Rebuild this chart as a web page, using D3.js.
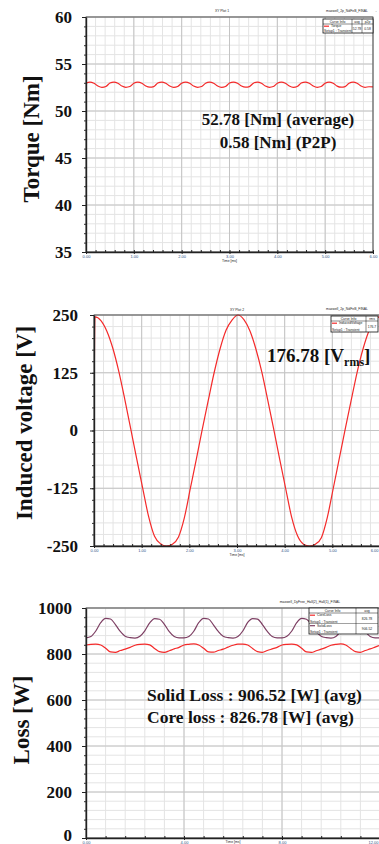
<!DOCTYPE html>
<html>
<head>
<meta charset="utf-8">
<script src="https://cdn.jsdelivr.net/npm/d3@7"></script>
<style>
  body { margin: 0; background: #fff; }
  svg { display: block; }
  .tick-label text { font-family: "Liberation Serif", "Times New Roman", serif; font-weight: bold; font-size: 17px; fill: #111; }
  .x-labels text { font-family: "Liberation Sans", Arial, sans-serif; font-size: 4px; fill: #2a4f86; }
  .ylabel { font-family: "Liberation Serif", "Times New Roman", serif; font-weight: bold; font-size: 23px; fill: #111; }
  .note { font-family: "Liberation Serif", "Times New Roman", serif; font-weight: bold; fill: #111; }
  .tiny { font-family: "Liberation Sans", Arial, sans-serif; font-size: 3.4px; fill: #222; }
</style>
</head>
<body>
<div id="app"></div>
<script>

// ---------- CONSTANTS ----------

const WIDTH = 379;
const HEIGHT = 844;

// ---------- Data ----------

// shared time axis of the torque and voltage plots [ms]
const TIME_TICKS = [0, 1, 2, 3, 4, 5, 6];
const TIME_LABELS = ["0.00", "1.00", "2.00", "3.00", "4.00", "5.00", "6.00"];

// torque [Nm], one sample every 1/12 ms
const TORQUE_TICKS = [35, 40, 45, 50, 55, 60];
const TORQUE_STEP = 1 / 12;
const torqueValues = [
  52.96, 53.08, 52.95, 52.66, 52.52, 52.61,
  52.97, 53.08, 52.96, 52.65, 52.52, 52.60,
  52.96, 53.07, 52.96, 52.66, 52.53, 52.60,
  52.97, 53.08, 52.95, 52.66, 52.52, 52.61,
  52.96, 53.08, 52.96, 52.65, 52.52, 52.60,
  52.96, 53.07, 52.96, 52.66, 52.52, 52.61,
  52.97, 53.08, 52.95, 52.66, 52.53, 52.60,
  52.96, 53.08, 52.96, 52.65, 52.52, 52.60,
  52.96, 53.07, 52.96, 52.66, 52.52, 52.61,
  52.97, 53.08, 52.95, 52.66, 52.52, 52.60,
  52.96, 53.08, 52.96, 52.65, 52.53, 52.60,
  52.96, 53.07, 52.96, 52.66, 52.52, 52.58,
  52.56
];

// induced voltage [V]: first sample at t = 0, then every 0.125 ms from 0.02 ms
const VOLT_TICKS = [-250, -125, 0, 125, 250];
const VOLT_START = 0;
const VOLT_OFFSET = 0.02;
const VOLT_STEP = 0.125;
const voltValues = [
  246, 238, 215, 178, 128, 68, 4, -61, -124, -186, -229, -245,
  -250, -246, -231, -189, -126, -63, 2, 64, 125, 177, 217, 239,
  250, 240, 216, 177, 127, 66, 3, -62, -125, -187, -228, -246,
  -250, -246, -232, -188, -125, -61, 3, 65, 126, 177, 216, 238,
  249
];

// losses [W], one sample every 0.2 ms
const LOSS_TICKS = [0, 200, 400, 600, 800, 1000];
const LOSS_TIME_TICKS = [0, 4, 8, 12];
const LOSS_TIME_LABELS = ["0.00", "4.00", "8.00", "12.00"];
const LOSS_STEP = 0.2;
const solidLoss = [
  870, 876, 900, 936, 955, 952, 928, 898, 877, 871,
  869, 877, 901, 935, 954, 951, 929, 897, 876, 870,
  870, 876, 899, 936, 955, 952, 927, 898, 877, 871,
  869, 876, 900, 937, 954, 952, 928, 898, 876, 870,
  870, 877, 900, 936, 955, 951, 928, 897, 877, 871,
  869, 876, 901, 935, 955, 952, 928, 898, 876, 870,
  870
];
const coreLoss = [
  839, 842, 843, 839, 825, 809, 807, 815, 821, 829,
  838, 842, 843, 840, 824, 810, 807, 814, 822, 829,
  839, 842, 844, 839, 825, 809, 808, 815, 821, 830,
  838, 843, 843, 839, 824, 810, 807, 815, 822, 829,
  839, 842, 843, 840, 825, 809, 807, 814, 821, 829,
  838, 842, 844, 839, 824, 810, 807, 815, 822, 830,
  838
];

// ---------- Helpers ----------

const svg = d3.select("#app")
  .append("svg")
  .attr("width", WIDTH)
  .attr("height", HEIGHT);

let clipId = 0;

// grid, axes, frame and curves of one plot
function drawPanel(p) {
  const g = svg.append("g");
  const x = d3.scaleLinear().domain(p.xDomain).range([p.left, p.right]);
  const y = d3.scaleLinear().domain(p.yDomain).range([p.bottom, p.top]);

  const xMinor = d3.range(p.xDomain[0], p.xDomain[1] + 1e-9, p.xMinorStep);
  const yMinor = d3.range(p.yDomain[0], p.yDomain[1] + 1e-9, p.yMinorStep);

  // minor grid
  g.append("g").selectAll("line").data(xMinor).join("line")
    .attr("x1", d => x(d)).attr("x2", d => x(d))
    .attr("y1", p.top).attr("y2", p.bottom)
    .attr("stroke", "#e4e4e4");
  g.append("g").selectAll("line").data(yMinor).join("line")
    .attr("x1", p.left).attr("x2", p.right)
    .attr("y1", d => y(d)).attr("y2", d => y(d))
    .attr("stroke", "#e4e4e4");

  // major grid
  g.append("g").selectAll("line").data(p.xTicks).join("line")
    .attr("x1", d => x(d)).attr("x2", d => x(d))
    .attr("y1", p.top).attr("y2", p.bottom)
    .attr("stroke", "#c4c4c4");
  g.append("g").selectAll("line").data(p.yTicks).join("line")
    .attr("x1", p.left).attr("x2", p.right)
    .attr("y1", d => y(d)).attr("y2", d => y(d))
    .attr("stroke", "#c4c4c4");

  // curves
  const id = "clip" + (clipId++);
  svg.append("clipPath").attr("id", id)
    .append("rect")
    .attr("x", p.left).attr("y", p.top - 1)
    .attr("width", p.right - p.left).attr("height", p.bottom - p.top + 2);

  const line = d3.line()
    .x(d => x(d.t))
    .y(d => y(d.v))
    .curve(d3.curveMonotoneX);

  p.series.forEach(s => {
    g.append("path")
      .datum(s.points)
      .attr("clip-path", `url(#${id})`)
      .attr("fill", "none")
      .attr("stroke", s.color)
      .attr("stroke-width", 1.2)
      .attr("d", line);
  });

  // frame
  g.append("rect")
    .attr("x", p.left).attr("y", p.top)
    .attr("width", p.right - p.left).attr("height", p.bottom - p.top)
    .attr("fill", "none")
    .attr("stroke", "#333")
    .attr("stroke-width", 0.8);

  // y axis, minor ticks then labelled ticks
  g.append("g")
    .attr("transform", `translate(${p.left},0)`)
    .call(d3.axisLeft(y).tickValues(yMinor).tickSize(2).tickSizeOuter(0).tickFormat(""))
    .call(a => a.select(".domain").remove())
    .selectAll("line").attr("stroke", "#333");
  const ya = g.append("g")
    .attr("class", "tick-label")
    .attr("transform", `translate(${p.left},0)`)
    .call(d3.axisLeft(y).tickValues(p.yTicks).tickSize(4).tickSizeOuter(0).tickPadding(p.yPad)
      .tickFormat(d => String(d)))
    .call(a => a.select(".domain").attr("stroke", "#222").attr("stroke-width", 1.4))
    .call(a => a.attr("font-family", null).attr("font-size", null));
  ya.selectAll("line").attr("stroke", "#222");
  // a label on the bottom window edge is lifted a little
  ya.selectAll(".tick text")
    .filter(d => y(d) > HEIGHT - 10)
    .attr("dy", "0.12em");

  // x axis
  g.append("g")
    .attr("transform", `translate(0,${p.bottom})`)
    .call(d3.axisBottom(x).tickValues(xMinor).tickSize(-2).tickSizeOuter(0).tickFormat(""))
    .call(a => a.select(".domain").remove())
    .selectAll("line").attr("stroke", "#222");
  const xa = g.append("g")
    .attr("class", "x-labels")
    .attr("transform", `translate(0,${p.bottom})`)
    .call(d3.axisBottom(x).tickValues(p.xTicks).tickSize(2).tickSizeOuter(0).tickPadding(1)
      .tickFormat((d, i) => p.xLabels[i]))
    .call(a => a.select(".domain").attr("stroke", "#222").attr("stroke-width", 1.4))
    .call(a => a.attr("font-family", null).attr("font-size", null));
  xa.selectAll("line").attr("stroke", "#222");
  // the last label sits on the window edge: keep it inside
  xa.selectAll(".tick text")
    .filter(d => x(d) > WIDTH - 4)
    .attr("text-anchor", "end")
    .attr("x", WIDTH - 1 - x(p.xDomain[1]));

  g.append("text")
    .attr("class", "tiny")
    .attr("x", (p.left + p.right) / 2)
    .attr("y", Math.min(p.bottom + 10, HEIGHT - 1.5))
    .attr("text-anchor", "middle")
    .text("Time [ms]");

  // rotated y label
  g.append("text")
    .attr("class", "ylabel")
    .attr("transform", `translate(${p.labelX},${p.labelY}) rotate(-90)`)
    .attr("text-anchor", "middle")
    .text(p.yLabel);

  return { x, y };
}

// small curve-info table in the upper right corner
function drawLegend(lx, ly, w, h, colX, rows, headers) {
  const rowH = 5;
  const g = svg.append("g");
  g.append("rect")
    .attr("x", lx).attr("y", ly)
    .attr("width", w).attr("height", h)
    .attr("fill", "#fff")
    .attr("stroke", "#111")
    .attr("stroke-width", 0.8);
  g.append("line")
    .attr("x1", lx).attr("x2", lx + w)
    .attr("y1", ly + rowH).attr("y2", ly + rowH)
    .attr("stroke", "#111").attr("stroke-width", 0.5);
  colX.forEach(cx => {
    g.append("line")
      .attr("x1", cx).attr("x2", cx)
      .attr("y1", ly).attr("y2", ly + h)
      .attr("stroke", "#111").attr("stroke-width", 0.5);
  });
  headers.forEach((t, i) => {
    const x0 = i === 0 ? lx : colX[i - 1];
    const x1 = i < colX.length ? colX[i] : lx + w;
    g.append("text").attr("class", "tiny")
      .attr("x", (x0 + x1) / 2).attr("y", ly + 3.6)
      .attr("text-anchor", "middle").text(t);
  });
  const bodyH = (h - rowH) / rows.length;
  rows.forEach((r, i) => {
    const ry = ly + rowH + i * bodyH;
    if (i > 0) {
      g.append("line")
        .attr("x1", lx).attr("x2", lx + w)
        .attr("y1", ry).attr("y2", ry)
        .attr("stroke", "#111").attr("stroke-width", 0.4);
    }
    g.append("line")
      .attr("x1", lx + 1).attr("x2", lx + 6)
      .attr("y1", ry + 2.2).attr("y2", ry + 2.2)
      .attr("stroke", r.color).attr("stroke-width", 1.2);
    g.append("text").attr("class", "tiny")
      .attr("x", lx + 8).attr("y", ry + 3).text(r.name);
    g.append("text").attr("class", "tiny")
      .attr("x", lx + 1).attr("y", ry + bodyH - 1).text(r.setup);
    r.values.forEach((v, j) => {
      const x0 = colX[j];
      const x1 = j + 1 < colX.length ? colX[j + 1] : lx + w;
      g.append("text").attr("class", "tiny")
        .attr("x", (x0 + x1) / 2).attr("y", ry + bodyH / 2 + 1.3)
        .attr("text-anchor", "middle").text(v);
    });
  });
}

function titleText(x, y, t, anchor) {
  svg.append("text").attr("class", "tiny")
    .attr("x", x).attr("y", y)
    .attr("text-anchor", anchor || "middle")
    .text(t);
}

function note(x, y, size, anchor, t) {
  return svg.append("text")
    .attr("class", "note")
    .attr("x", x).attr("y", y)
    .attr("font-size", size)
    .attr("text-anchor", anchor)
    .text(t);
}

// ---------- Main ----------

function main() {

  const RED = "#f42a2a";
  const PURPLE = "#7d3f63";

  // ---------- Torque ----------
  const torque = torqueValues.map((v, i) => ({ t: i * TORQUE_STEP, v }));
  drawPanel({
    left: 86, right: 373, top: 17, bottom: 252,
    xDomain: [0, 6], yDomain: [35, 60],
    xTicks: TIME_TICKS, xLabels: TIME_LABELS, xMinorStep: 0.2,
    yTicks: TORQUE_TICKS, yMinorStep: 1, yPad: 10,
    yLabel: "Torque [Nm]", labelX: 39, labelY: 139,
    series: [{ points: torque, color: RED }]
  });
  titleText(222, 12, "XY Plot 1");
  titleText(347, 12, "maxwell_2p_NdFeB_FINAL");
  titleText(376, 12, "-");
  drawLegend(323, 19, 50, 14, [352, 362],
    [{ color: RED, name: "Torque", setup: "Setup1 : Transient", values: ["52.78", "0.58"] }],
    ["Curve Info", "avg", "p2p"]);
  note(278, 125, 17, "middle", "52.78 [Nm] (average)");
  note(278, 148, 17, "middle", "0.58 [Nm] (P2P)");

  // ---------- Induced voltage ----------
  const voltage = [{ t: 0, v: VOLT_START }]
    .concat(voltValues.map((v, i) => ({ t: VOLT_OFFSET + i * VOLT_STEP, v })));
  drawPanel({
    left: 94, right: 380, top: 315, bottom: 546,
    xDomain: [0, 6], yDomain: [-250, 250],
    xTicks: TIME_TICKS, xLabels: TIME_LABELS, xMinorStep: 0.2,
    yTicks: VOLT_TICKS, yMinorStep: 25, yPad: 12,
    yLabel: "Induced voltage [V]", labelX: 32, labelY: 423,
    series: [{ points: voltage, color: RED }]
  });
  titleText(237, 311, "XY Plot 2");
  titleText(347, 310, "maxwell_2p_NdFeB_FINAL");
  drawLegend(331, 316, 47, 16, [366],
    [{ color: RED, name: "InducedVoltage", setup: "Setup1 : Transient", values: ["176.7"] }],
    ["Curve Info", "rms"]);
  const vt = note(267, 362, 19, "start", "176.78 [V");
  vt.append("tspan").attr("font-size", 12).attr("dy", 4).text("rms");
  vt.append("tspan").attr("dy", -4).text("]");

  // ---------- Loss ----------
  const solid = solidLoss.map((v, i) => ({ t: i * LOSS_STEP, v }));
  const core = coreLoss.map((v, i) => ({ t: i * LOSS_STEP, v }));
  drawPanel({
    left: 86, right: 380, top: 608, bottom: 838,
    xDomain: [0, 12], yDomain: [0, 1000],
    xTicks: LOSS_TIME_TICKS, xLabels: LOSS_TIME_LABELS, xMinorStep: 0.8,
    yTicks: LOSS_TICKS, yMinorStep: 40, yPad: 10,
    yLabel: "Loss [W]", labelX: 29, labelY: 720,
    series: [
      { points: solid, color: PURPLE },
      { points: core, color: RED }
    ]
  });
  titleText(310, 603, "maxwell_DyFree_Hall(2)_Hall(1)_FINAL");
  drawLegend(309, 608, 69, 26, [356],
    [
      { color: RED, name: "CoreLoss", setup: "Setup1 : Transient", values: ["826.78"] },
      { color: PURPLE, name: "SolidLoss", setup: "Setup1 : Transient", values: ["906.52"] }
    ],
    ["Curve Info", "avg"]);
  note(147, 701, 17.5, "start", "Solid Loss : 906.52 [W] (avg)");
  note(147, 723, 17.5, "start", "Core loss : 826.78 [W] (avg)");
}

main();
</script>
</body>
</html>
